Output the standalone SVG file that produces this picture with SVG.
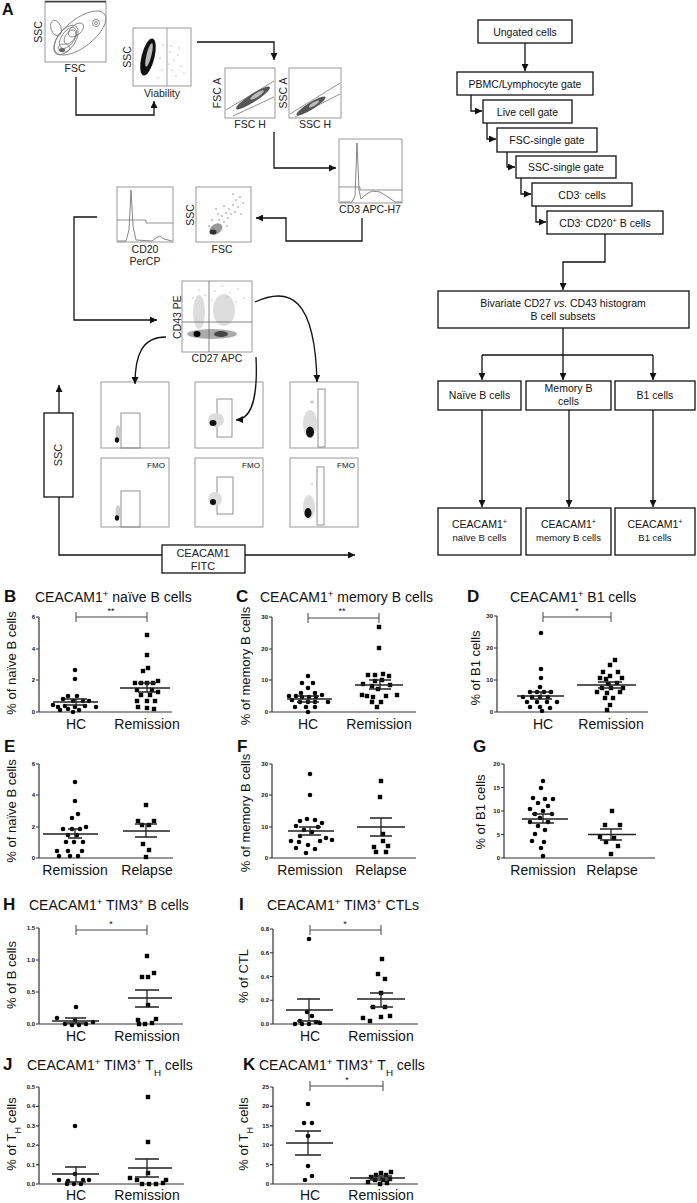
<svg xmlns="http://www.w3.org/2000/svg" width="697" height="1203" viewBox="0 0 697 1203">
<style>
text{font-family:"Liberation Sans",Arial,sans-serif;fill:#111}
.box{fill:#fff;stroke:#111;stroke-width:1.3}
.fc{font-size:10.5px;text-anchor:middle}
.plot{fill:#fff;stroke:#999;stroke-width:1}
.gate{fill:none;stroke:#777;stroke-width:0.8}
.lbl{font-size:10.5px;text-anchor:middle;fill:#222}
.conn{fill:none;stroke:#111;stroke-width:1.3}
.ax{stroke:#333;stroke-width:1.2;fill:none}
.tk{font-size:6px;font-weight:bold;text-anchor:end}
.xl{font-size:14px;text-anchor:middle}
.yl{font-size:13px;text-anchor:middle}
.ttl{font-size:14px}
.pl{font-size:17px;font-weight:bold}
.mean{stroke:#222;stroke-width:1.3;fill:none}
.sig{stroke:#444;stroke-width:1;fill:none}
.st{font-size:9px;text-anchor:middle}
.sup{font-size:70%;baseline-shift:super}
.sub{font-size:70%;baseline-shift:sub}
.fmo{font-size:8px;text-anchor:middle}
.dot{fill:#888}
</style>
<defs>
<marker id="ah" viewBox="0 0 10 10" refX="10" refY="5" markerWidth="7" markerHeight="7" markerUnits="userSpaceOnUse" orient="auto"><path d="M0,0 L10,5 L0,10 z" fill="#111"/></marker>
<circle id="c" r="2.3" fill="#000"/>
<rect id="s" x="-2.2" y="-2.2" width="4.4" height="4.4" fill="#000"/>
</defs>
<rect width="697" height="1203" fill="#fff"/>

<!-- ================= PANEL A : flow plots ================= -->
<text class="pl" x="2" y="15" style="font-size:16px">A</text>

<g id="plot-fsc-ssc">
<rect class="plot" x="45" y="1" width="61" height="61"/>
<line x1="45" y1="1.8" x2="106" y2="1.8" stroke="#444" stroke-width="1.6"/>
<ellipse cx="80" cy="33" rx="31" ry="14" transform="rotate(-38 80 33)" class="gate" stroke="#555"/>
<ellipse cx="66" cy="40" rx="17" ry="9" transform="rotate(-55 66 40)" class="gate"/>
<ellipse cx="68" cy="38" rx="12" ry="6.5" transform="rotate(-55 68 38)" class="gate"/>
<ellipse cx="70" cy="37" rx="8" ry="4.5" transform="rotate(-55 70 37)" class="gate" stroke="#555"/>
<ellipse cx="64" cy="48" rx="6" ry="4" class="gate" stroke="#444"/>
<ellipse cx="76" cy="30" rx="9" ry="5" transform="rotate(-40 76 30)" class="gate"/>
<ellipse cx="56" cy="28" rx="5" ry="8" transform="rotate(-20 56 28)" class="gate" stroke="#999"/>
<ellipse cx="62" cy="50" rx="3" ry="2" fill="#666"/>
<circle cx="96" cy="23" r="3.5" class="gate"/>
<circle cx="96" cy="23" r="1.5" class="gate"/>
<text class="lbl" transform="translate(42,32) rotate(-90)">SSC</text>
<text class="lbl" x="75" y="72">FSC</text>
</g>

<g id="plot-viability">
<rect class="plot" x="133" y="28" width="58" height="58"/>
<line x1="167" y1="28" x2="167" y2="86" stroke="#888" stroke-width="0.8"/>
<ellipse cx="148" cy="57" rx="6.5" ry="19" transform="rotate(14 148 57)" fill="#111"/>
<ellipse cx="149" cy="55" rx="2.5" ry="12" transform="rotate(14 149 55)" fill="#bbb"/>
<g class="dot">
<circle cx="170" cy="52" r="0.6"/><circle cx="174" cy="60" r="0.6"/><circle cx="178" cy="55" r="0.6"/><circle cx="172" cy="70" r="0.6"/><circle cx="181" cy="66" r="0.6"/><circle cx="176" cy="76" r="0.6"/><circle cx="169" cy="64" r="0.6"/><circle cx="184" cy="73" r="0.6"/><circle cx="163" cy="45" r="0.6"/><circle cx="160" cy="58" r="0.6"/><circle cx="162" cy="70" r="0.6"/><circle cx="158" cy="78" r="0.6"/><circle cx="171" cy="46" r="0.6"/><circle cx="179" cy="48" r="0.6"/>
</g>
<text class="lbl" transform="translate(131,57) rotate(-90)">SSC</text>
<text class="lbl" x="162" y="97">Viability</text>
</g>

<g id="plot-fsc-singlets">
<rect class="plot" x="225" y="68" width="50" height="50"/>
<path class="gate" d="M226,110 L274,81 M233,116 L274,97"/>
<ellipse cx="253" cy="98" rx="20" ry="4" transform="rotate(-33 253 98)" fill="#555"/>
<ellipse cx="257" cy="95" rx="8" ry="2" transform="rotate(-33 257 95)" fill="#bbb"/>
<text class="lbl" transform="translate(221,93) rotate(-90)">FSC A</text>
<text class="lbl" x="250" y="128">FSC H</text>
</g>

<g id="plot-ssc-singlets">
<rect class="plot" x="289" y="68" width="52" height="50"/>
<path class="gate" d="M290,114 L340,83 M295,117 L340,94"/>
<ellipse cx="311" cy="106" rx="17" ry="3.5" transform="rotate(-32 311 106)" fill="#555"/>
<ellipse cx="314" cy="104" rx="6" ry="1.8" transform="rotate(-32 314 104)" fill="#bbb"/>
<text class="lbl" transform="translate(287,93) rotate(-90)">SSC A</text>
<text class="lbl" x="315" y="128">SSC H</text>
</g>

<g id="plot-cd3">
<rect class="plot" x="339" y="139" width="63" height="64"/>
<path d="M340,202 L352,202 L355,196 L357,143 L359,190 L361,199 L365,195 L372,191 L380,192 L388,197 L395,202 L402,202" fill="none" stroke="#777" stroke-width="0.9"/>
<path class="gate" d="M339,187 H360 V190 H402"/>
<text class="lbl" x="370" y="213">CD3 APC-H7</text>
</g>

<g id="plot-ssc-fsc">
<rect class="plot" x="196" y="187" width="55" height="55"/>
<g class="dot">
<circle cx="215" cy="225" r="0.8"/><circle cx="219" cy="220" r="0.8"/><circle cx="222" cy="216" r="0.8"/><circle cx="226" cy="213" r="0.8"/><circle cx="229" cy="209" r="0.8"/><circle cx="233" cy="205" r="0.8"/><circle cx="236" cy="200" r="0.8"/><circle cx="240" cy="197" r="0.8"/><circle cx="224" cy="222" r="0.8"/><circle cx="228" cy="218" r="0.8"/><circle cx="231" cy="214" r="0.8"/><circle cx="218" cy="214" r="0.8"/><circle cx="212" cy="220" r="0.8"/><circle cx="235" cy="212" r="0.8"/><circle cx="238" cy="207" r="0.8"/><circle cx="221" cy="228" r="0.8"/><circle cx="227" cy="226" r="0.8"/><circle cx="209" cy="226" r="0.8"/><circle cx="243" cy="203" r="0.8"/><circle cx="233" cy="194" r="0.8"/><circle cx="216" cy="209" r="0.8"/><circle cx="241" cy="214" r="0.8"/><circle cx="224" cy="206" r="0.8"/>
</g>
<ellipse cx="216" cy="229" rx="7" ry="5" transform="rotate(-35 216 229)" fill="#999"/>
<ellipse cx="213" cy="232" rx="3.5" ry="2.5" fill="#333"/>
<text class="lbl" transform="translate(194,215) rotate(-90)">SSC</text>
<text class="lbl" x="222" y="253">FSC</text>
</g>

<g id="plot-cd20">
<rect class="plot" x="117" y="187" width="56" height="55"/>
<path d="M118,241 L126,241 L129,230 L131,190 L133,226 L136,240 L152,241 L156,238 L160,236 L164,239 L172,241" fill="none" stroke="#777" stroke-width="0.9"/>
<path class="gate" d="M117,220 H146 V223 H173"/>
<text class="lbl" x="145" y="253">CD20</text>
<text class="lbl" x="145" y="265">PerCP</text>
</g>

<g id="plot-cd43-cd27">
<rect class="plot" x="182" y="281" width="70" height="71"/>
<ellipse cx="199" cy="312" rx="6" ry="17" fill="#ddd"/>
<ellipse cx="224" cy="310" rx="11" ry="16" fill="#ddd"/>
<ellipse cx="212" cy="334" rx="25" ry="5" fill="#aaa"/>
<ellipse cx="221" cy="334" rx="7" ry="3" fill="#444"/>
<ellipse cx="197" cy="334" rx="3.5" ry="3" fill="#000"/>
<g class="dot">
<circle cx="199" cy="290" r="0.6"/><circle cx="205" cy="295" r="0.6"/><circle cx="215" cy="291" r="0.6"/><circle cx="222" cy="286" r="0.6"/><circle cx="230" cy="293" r="0.6"/><circle cx="238" cy="289" r="0.6"/><circle cx="244" cy="298" r="0.6"/><circle cx="193" cy="298" r="0.6"/><circle cx="236" cy="302" r="0.6"/><circle cx="212" cy="300" r="0.6"/><circle cx="227" cy="297" r="0.6"/>
</g>
<line x1="209" y1="281" x2="209" y2="352" stroke="#666" stroke-width="0.8"/>
<line x1="182" y1="322" x2="252" y2="322" stroke="#666" stroke-width="0.8"/>
<text class="lbl" transform="translate(181,317) rotate(-90)">CD43 PE</text>
<text class="lbl" x="217" y="362">CD27 APC</text>
</g>

<g id="plot-grid">
<rect class="plot" x="101" y="382" width="68" height="66"/>
<rect class="plot" x="195" y="382" width="68" height="66"/>
<rect class="plot" x="290" y="382" width="68" height="66"/>
<rect class="plot" x="101" y="458" width="68" height="69"/>
<rect class="plot" x="195" y="458" width="68" height="69"/>
<rect class="plot" x="290" y="458" width="68" height="69"/>
<rect class="gate" x="121" y="413" width="19" height="35" stroke="#666"/>
<rect class="gate" x="217" y="399" width="15" height="38" stroke="#666"/>
<rect class="gate" x="318" y="389" width="7" height="58" stroke="#666"/>
<rect class="gate" x="121" y="491" width="19" height="36" stroke="#666"/>
<rect class="gate" x="217" y="477" width="16" height="37" stroke="#666"/>
<rect class="gate" x="317" y="467" width="7" height="58" stroke="#666"/>
<ellipse cx="118" cy="433" rx="2.5" ry="8" fill="#ccc"/>
<ellipse cx="117" cy="440" rx="2.2" ry="2.8" fill="#111"/>
<ellipse cx="216" cy="420" rx="8" ry="7" fill="#ddd"/>
<ellipse cx="213" cy="423" rx="3.5" ry="3" fill="#111"/>
<ellipse cx="310" cy="424" rx="7" ry="14" fill="#ddd"/>
<ellipse cx="310" cy="432" rx="4" ry="5.5" fill="#111"/>
<ellipse cx="312" cy="402" rx="2" ry="1.5" fill="#ccc"/>
<ellipse cx="118" cy="512" rx="2.5" ry="7" fill="#ccc"/>
<ellipse cx="117" cy="518" rx="2.2" ry="2.8" fill="#111"/>
<ellipse cx="215" cy="499" rx="7" ry="7" fill="#ddd"/>
<ellipse cx="213" cy="502" rx="3" ry="3" fill="#111"/>
<ellipse cx="309" cy="507" rx="6" ry="12" fill="#ddd"/>
<ellipse cx="308" cy="513" rx="3.5" ry="5" fill="#111"/>
<circle cx="312" cy="484" r="1" fill="#ccc"/>
<text class="fmo" x="156" y="468">FMO</text>
<text class="fmo" x="251" y="468">FMO</text>
<text class="fmo" x="346" y="468">FMO</text>
</g>

<g id="axis-ssc">
<rect class="box" x="44" y="413" width="29" height="84"/>
<text class="lbl" transform="translate(62,455) rotate(-90)" style="font-size:11px">SSC</text>
</g>
<g id="axis-ceacam1">
<rect class="box" x="162" y="545" width="83" height="28"/>
<text class="lbl" x="203" y="557" style="font-size:11px">CEACAM1</text>
<text class="lbl" x="203" y="570" style="font-size:11px">FITC</text>
</g>

<g id="connectors-A">
<path class="conn" d="M76,77 V115 H154 V101" marker-end="url(#ah)"/>
<path class="conn" d="M197,42 H274 V60" marker-end="url(#ah)"/>
<path class="conn" d="M274,132 V168 H336" marker-end="url(#ah)"/>
<path class="conn" d="M362,218 V241 H286 V218 H256" marker-end="url(#ah)"/>
<path class="conn" d="M97,217 H74 V320 H157" marker-end="url(#ah)"/>
<path class="conn" d="M255,302 C290,286 315,298 317,382" marker-end="url(#ah)"/>
<path class="conn" d="M166,337 C142,337 135,355 135,384" marker-end="url(#ah)"/>
<path class="conn" d="M256,357 C258,398 252,419 236,420" marker-end="url(#ah)"/>
<path class="conn" d="M59,413 V385" marker-end="url(#ah)"/>
<path class="conn" d="M59,497 V555 H162"/>
<path class="conn" d="M245,555 H355" marker-end="url(#ah)"/>
</g>

<!-- ================= Flowchart ================= -->
<g id="n-ungated"><rect class="box" x="478" y="20" width="94" height="23"/><text class="fc" x="525" y="35.5">Ungated cells</text></g>
<g id="n-pbmc"><rect class="box" x="457" y="72" width="136" height="23"/><text class="fc" x="525" y="87.5">PBMC/Lymphocyte gate</text></g>
<g id="n-live"><rect class="box" x="483" y="100" width="89" height="23"/><text class="fc" x="527.5" y="115.5">Live cell gate</text></g>
<g id="n-fsc"><rect class="box" x="497" y="128" width="100" height="24"/><text class="fc" x="547" y="144">FSC-single gate</text></g>
<g id="n-ssc"><rect class="box" x="516" y="156" width="100" height="22"/><text class="fc" x="566" y="171">SSC-single gate</text></g>
<g id="n-cd3"><rect class="box" x="532" y="183" width="100" height="23"/><text class="fc" x="582" y="198.5">CD3<tspan class="sup">-</tspan> cells</text></g>
<g id="n-cd20"><rect class="box" x="547" y="211" width="116" height="23"/><text class="fc" x="605" y="226.5">CD3<tspan class="sup">-</tspan> CD20<tspan class="sup">+</tspan> B cells</text></g>
<g id="n-bivariate"><rect class="box" x="438" y="291" width="251" height="37"/><text class="fc" x="563" y="307">Bivariate CD27 <tspan font-style="italic">vs.</tspan> CD43 histogram</text><text class="fc" x="563" y="320">B cell subsets</text></g>
<g id="n-naive"><rect class="box" x="438" y="381" width="83" height="29"/><text class="fc" x="479.5" y="399">Naïve B cells</text></g>
<g id="n-memory"><rect class="box" x="526" y="381" width="85" height="29"/><text class="fc" x="568.5" y="392">Memory B</text><text class="fc" x="568.5" y="405">cells</text></g>
<g id="n-b1"><rect class="box" x="615" y="381" width="80" height="29"/><text class="fc" x="655" y="399">B1 cells</text></g>
<g id="n-cnaive"><rect class="box" x="438" y="508" width="83" height="47"/><text class="fc" x="479.5" y="528">CEACAM1<tspan class="sup">+</tspan></text><text class="fc" x="479.5" y="541" style="font-size:9.5px">naïve B cells</text></g>
<g id="n-cmemory"><rect class="box" x="526" y="508" width="85" height="47"/><text class="fc" x="568.5" y="528">CEACAM1<tspan class="sup">+</tspan></text><text class="fc" x="568.5" y="541" style="font-size:9.5px">memory B cells</text></g>
<g id="n-cb1"><rect class="box" x="615" y="508" width="80" height="47"/><text class="fc" x="655" y="528">CEACAM1<tspan class="sup">+</tspan></text><text class="fc" x="655" y="541" style="font-size:9.5px">B1 cells</text></g>

<g id="connectors-flow">
<path class="conn" d="M525,43 V71" marker-end="url(#ah)"/>
<path class="conn" d="M471,95 V111 H482" marker-end="url(#ah)"/>
<path class="conn" d="M487,123 V139 H496" marker-end="url(#ah)"/>
<path class="conn" d="M507,152 V167 H515" marker-end="url(#ah)"/>
<path class="conn" d="M521,178 V194 H531" marker-end="url(#ah)"/>
<path class="conn" d="M536,206 V222 H546" marker-end="url(#ah)"/>
<path class="conn" d="M605,234 V262 H563 V290" marker-end="url(#ah)"/>
<path class="conn" d="M563,328 V355 M482,355 H653"/>
<path class="conn" d="M482,355 V380" marker-end="url(#ah)"/>
<path class="conn" d="M563,355 V380" marker-end="url(#ah)"/>
<path class="conn" d="M653,355 V380" marker-end="url(#ah)"/>
<path class="conn" d="M482,410 V507" marker-end="url(#ah)"/>
<path class="conn" d="M569,410 V507" marker-end="url(#ah)"/>
<path class="conn" d="M653,410 V507" marker-end="url(#ah)"/>
</g>

<!-- ================= PANEL B ================= -->
<g id="panelB">
<text class="pl" x="4" y="602">B</text>
<text class="ttl" x="35" y="602">CEACAM1<tspan class="sup">+</tspan> naïve B cells</text>
<text class="yl" transform="translate(16,663) rotate(-90)">% of naïve B cells</text>
<path class="ax" d="M39,617 V712 H172 M36,617H39 M36,649H39 M36,680H39 M36,712H39"/>
<text class="tk" x="35" y="619">6</text><text class="tk" x="35" y="651">4</text><text class="tk" x="35" y="682">2</text><text class="tk" x="35" y="714">0</text>
<text class="xl" x="76" y="729">HC</text><text class="xl" x="147" y="729">Remission</text>
<path class="sig" d="M76,617H147M76,612V622M147,612V622"/><text class="st" x="111" y="614">**</text>
<use href="#c" x="75" y="670"/><use href="#c" x="75" y="679"/><use href="#c" x="68" y="696"/><use href="#c" x="77" y="696"/><use href="#c" x="63" y="699"/><use href="#c" x="73" y="701"/><use href="#c" x="83" y="701"/><use href="#c" x="89" y="701"/><use href="#c" x="53" y="705"/><use href="#c" x="58" y="707"/><use href="#c" x="65" y="706"/><use href="#c" x="75" y="707"/><use href="#c" x="85" y="706"/><use href="#c" x="96" y="707"/><use href="#c" x="60" y="710"/><use href="#c" x="68" y="709"/><use href="#c" x="79" y="710"/><use href="#c" x="73" y="712"/>
<use href="#s" x="147" y="635"/><use href="#s" x="147" y="655"/><use href="#s" x="148" y="668"/><use href="#s" x="143" y="671"/><use href="#s" x="135" y="683"/><use href="#s" x="141" y="683"/><use href="#s" x="147" y="683"/><use href="#s" x="153" y="683"/><use href="#s" x="158" y="681"/><use href="#s" x="137" y="690"/><use href="#s" x="152" y="690"/><use href="#s" x="158" y="692"/><use href="#s" x="141" y="695"/><use href="#s" x="150" y="695"/><use href="#s" x="137" y="701"/><use href="#s" x="147" y="701"/><use href="#s" x="155" y="701"/><use href="#s" x="138" y="707"/><use href="#s" x="147" y="708"/><use href="#s" x="154" y="709"/>
<path class="mean" d="M53,702H98M65,699H87M65,705H87M76,699V705"/>
<path class="mean" d="M120,688H170M138,683H156M138,692H156M147,683V692"/>
</g>

<!-- ================= PANEL C ================= -->
<g id="panelC">
<text class="pl" x="236" y="602">C</text>
<text class="ttl" x="260" y="602">CEACAM1<tspan class="sup">+</tspan> memory B cells</text>
<text class="yl" transform="translate(250,666) rotate(-90)">% of memory B cells</text>
<path class="ax" d="M272,617 V712 H416 M269,617H272 M269,649H272 M269,680H272 M269,712H272"/>
<text class="tk" x="268" y="619">30</text><text class="tk" x="268" y="651">20</text><text class="tk" x="268" y="682">10</text><text class="tk" x="268" y="714">0</text>
<text class="xl" x="308" y="729">HC</text><text class="xl" x="379" y="729">Remission</text>
<path class="sig" d="M308,618H379M308,613V623M379,613V623"/><text class="st" x="342" y="614">**</text>
<use href="#c" x="308" y="676"/><use href="#c" x="302" y="683"/><use href="#c" x="313" y="683"/><use href="#c" x="308" y="688"/><use href="#c" x="301" y="693"/><use href="#c" x="315" y="693"/><use href="#c" x="289" y="696"/><use href="#c" x="296" y="696"/><use href="#c" x="302" y="697"/><use href="#c" x="309" y="697"/><use href="#c" x="316" y="697"/><use href="#c" x="322" y="695"/><use href="#c" x="292" y="700"/><use href="#c" x="300" y="702"/><use href="#c" x="308" y="702"/><use href="#c" x="315" y="702"/><use href="#c" x="328" y="702"/><use href="#c" x="295" y="707"/><use href="#c" x="306" y="707"/><use href="#c" x="315" y="707"/><use href="#c" x="308" y="712"/>
<use href="#s" x="379" y="627"/><use href="#s" x="379" y="648"/><use href="#s" x="368" y="675"/><use href="#s" x="375" y="675"/><use href="#s" x="383" y="674"/><use href="#s" x="389" y="676"/><use href="#s" x="375" y="681"/><use href="#s" x="382" y="680"/><use href="#s" x="363" y="684"/><use href="#s" x="372" y="686"/><use href="#s" x="390" y="685"/><use href="#s" x="378" y="689"/><use href="#s" x="362" y="695"/><use href="#s" x="367" y="696"/><use href="#s" x="373" y="697"/><use href="#s" x="386" y="696"/><use href="#s" x="397" y="695"/><use href="#s" x="372" y="702"/><use href="#s" x="381" y="702"/><use href="#s" x="377" y="707"/>
<path class="mean" d="M287,699H332M297,696H319M297,702H319M308,696V702"/>
<path class="mean" d="M355,685H403M369,680H391M369,689H391M380,680V689"/>
</g>

<!-- ================= PANEL D ================= -->
<g id="panelD">
<text class="pl" x="467" y="602">D</text>
<text class="ttl" x="510" y="602">CEACAM1<tspan class="sup">+</tspan> B1 cells</text>
<text class="yl" transform="translate(480,668) rotate(-90)">% of B1 cells</text>
<path class="ax" d="M497,616 V712 H648 M494,616H497 M494,648H497 M494,680H497 M494,712H497"/>
<text class="tk" x="493" y="618">30</text><text class="tk" x="493" y="650">20</text><text class="tk" x="493" y="682">10</text><text class="tk" x="493" y="714">0</text>
<text class="xl" x="543" y="729">HC</text><text class="xl" x="611" y="729">Remission</text>
<path class="sig" d="M543,617H611M543,612V622M611,612V622"/><text class="st" x="577" y="614">*</text>
<use href="#c" x="541" y="633"/><use href="#c" x="541" y="669"/><use href="#c" x="541" y="678"/><use href="#c" x="540" y="687"/><use href="#c" x="530" y="692"/><use href="#c" x="537" y="692"/><use href="#c" x="544" y="692"/><use href="#c" x="551" y="692"/><use href="#c" x="523" y="697"/><use href="#c" x="532" y="697"/><use href="#c" x="540" y="697"/><use href="#c" x="548" y="697"/><use href="#c" x="527" y="702"/><use href="#c" x="537" y="702"/><use href="#c" x="547" y="702"/><use href="#c" x="557" y="702"/><use href="#c" x="530" y="707"/><use href="#c" x="540" y="707"/><use href="#c" x="550" y="708"/><use href="#c" x="542" y="711"/>
<use href="#s" x="615" y="660"/><use href="#s" x="610" y="665"/><use href="#s" x="603" y="672"/><use href="#s" x="618" y="672"/><use href="#s" x="610" y="676"/><use href="#s" x="600" y="678"/><use href="#s" x="606" y="679"/><use href="#s" x="622" y="678"/><use href="#s" x="608" y="684"/><use href="#s" x="617" y="683"/><use href="#s" x="602" y="688"/><use href="#s" x="611" y="688"/><use href="#s" x="623" y="688"/><use href="#s" x="597" y="692"/><use href="#s" x="607" y="693"/><use href="#s" x="620" y="692"/><use href="#s" x="605" y="698"/><use href="#s" x="613" y="698"/><use href="#s" x="610" y="705"/><use href="#s" x="607" y="710"/>
<path class="mean" d="M517,696H564M530,692H552M530,699H552M541,692V699"/>
<path class="mean" d="M577,685H636M598,682H622M598,688H622M610,682V688"/>
</g>

<!-- ================= PANEL E ================= -->
<g id="panelE">
<text class="pl" x="4" y="752">E</text>
<text class="yl" transform="translate(16,811) rotate(-90)">% of naïve B cells</text>
<path class="ax" d="M39,764 V858 H173 M36,764H39 M36,795H39 M36,827H39 M36,858H39"/>
<text class="tk" x="35" y="766">6</text><text class="tk" x="35" y="797">4</text><text class="tk" x="35" y="829">2</text><text class="tk" x="35" y="860">0</text>
<text class="xl" x="75" y="875">Remission</text><text class="xl" x="147" y="875">Relapse</text>
<use href="#c" x="75" y="782"/><use href="#c" x="75" y="801"/><use href="#c" x="72" y="818"/><use href="#c" x="78" y="814"/><use href="#c" x="63" y="829"/><use href="#c" x="72" y="829"/><use href="#c" x="80" y="829"/><use href="#c" x="86" y="827"/><use href="#c" x="68" y="835"/><use href="#c" x="77" y="835"/><use href="#c" x="66" y="842"/><use href="#c" x="74" y="842"/><use href="#c" x="83" y="842"/><use href="#c" x="57" y="851"/><use href="#c" x="68" y="851"/><use href="#c" x="82" y="851"/><use href="#c" x="59" y="856"/><use href="#c" x="70" y="856"/><use href="#c" x="78" y="856"/>
<use href="#s" x="146" y="805"/><use href="#s" x="138" y="821"/><use href="#s" x="154" y="821"/><use href="#s" x="142" y="825"/><use href="#s" x="149" y="825"/><use href="#s" x="143" y="844"/><use href="#s" x="149" y="850"/><use href="#s" x="146" y="857"/>
<path class="mean" d="M43,834H98M68,829H82M68,838H82M75,829V838"/>
<path class="mean" d="M123,831H170M135,824H157M135,837H157M146,824V837"/>
</g>

<!-- ================= PANEL F ================= -->
<g id="panelF">
<text class="pl" x="237" y="752">F</text>
<text class="yl" transform="translate(250,813) rotate(-90)">% of memory B cells</text>
<path class="ax" d="M272,764 V858 H416 M269,764H272 M269,795H272 M269,827H272 M269,858H272"/>
<text class="tk" x="268" y="766">30</text><text class="tk" x="268" y="797">20</text><text class="tk" x="268" y="829">10</text><text class="tk" x="268" y="860">0</text>
<text class="xl" x="310" y="875">Remission</text><text class="xl" x="381" y="875">Relapse</text>
<use href="#c" x="310" y="774"/><use href="#c" x="310" y="795"/><use href="#c" x="300" y="821"/><use href="#c" x="307" y="819"/><use href="#c" x="315" y="820"/><use href="#c" x="322" y="823"/><use href="#c" x="296" y="826"/><use href="#c" x="318" y="827"/><use href="#c" x="304" y="830"/><use href="#c" x="312" y="832"/><use href="#c" x="300" y="836"/><use href="#c" x="326" y="838"/><use href="#c" x="291" y="841"/><use href="#c" x="299" y="842"/><use href="#c" x="320" y="841"/><use href="#c" x="332" y="840"/><use href="#c" x="308" y="845"/><use href="#c" x="296" y="848"/><use href="#c" x="315" y="849"/><use href="#c" x="306" y="853"/>
<use href="#s" x="381" y="781"/><use href="#s" x="380" y="797"/><use href="#s" x="383" y="834"/><use href="#s" x="383" y="841"/><use href="#s" x="374" y="847"/><use href="#s" x="388" y="846"/><use href="#s" x="376" y="852"/><use href="#s" x="386" y="852"/>
<path class="mean" d="M288,831H334M299,827H321M299,835H321M310,827V835"/>
<path class="mean" d="M357,827H405M370,818H392M370,836H392M381,818V836"/>
</g>

<!-- ================= PANEL G ================= -->
<g id="panelG">
<text class="pl" x="473" y="752">G</text>
<text class="yl" transform="translate(485,812) rotate(-90)">% of B1 cells</text>
<path class="ax" d="M504,764 V858 H655 M501,764H504 M501,787.5H504 M501,811H504 M501,834.5H504 M501,858H504"/>
<text class="tk" x="500" y="766">20</text><text class="tk" x="500" y="789.5">15</text><text class="tk" x="500" y="813">10</text><text class="tk" x="500" y="836.5">5</text><text class="tk" x="500" y="860">0</text>
<text class="xl" x="543" y="875">Remission</text><text class="xl" x="612" y="875">Relapse</text>
<use href="#c" x="543" y="781"/><use href="#c" x="541" y="788"/><use href="#c" x="533" y="798"/><use href="#c" x="545" y="799"/><use href="#c" x="553" y="799"/><use href="#c" x="538" y="803"/><use href="#c" x="548" y="806"/><use href="#c" x="530" y="809"/><use href="#c" x="543" y="811"/><use href="#c" x="535" y="814"/><use href="#c" x="552" y="814"/><use href="#c" x="540" y="818"/><use href="#c" x="530" y="822"/><use href="#c" x="548" y="822"/><use href="#c" x="538" y="826"/><use href="#c" x="545" y="830"/><use href="#c" x="535" y="834"/><use href="#c" x="532" y="841"/><use href="#c" x="544" y="842"/><use href="#c" x="541" y="848"/><use href="#c" x="543" y="856"/>
<use href="#s" x="612" y="811"/><use href="#s" x="605" y="825"/><use href="#s" x="620" y="825"/><use href="#s" x="600" y="837"/><use href="#s" x="614" y="838"/><use href="#s" x="606" y="842"/><use href="#s" x="618" y="846"/><use href="#s" x="611" y="854"/>
<path class="mean" d="M522,819H568M532,814H554M532,823H554M543,814V823"/>
<path class="mean" d="M588,834.5H636M600,829H622M600,840H622M611,829V840"/>
</g>

<!-- ================= PANEL H ================= -->
<g id="panelH">
<text class="pl" x="3" y="910">H</text>
<text class="ttl" x="29" y="910">CEACAM1<tspan class="sup">+</tspan> TIM3<tspan class="sup">+</tspan> B cells</text>
<text class="yl" transform="translate(16,975) rotate(-90)">% of B cells</text>
<path class="ax" d="M39,928 V1024 H183 M36,928H39 M36,960H39 M36,992H39 M36,1024H39"/>
<text class="tk" x="35" y="930">1.5</text><text class="tk" x="35" y="962">1.0</text><text class="tk" x="35" y="994">0.5</text><text class="tk" x="35" y="1026">0.0</text>
<text class="xl" x="76" y="1041">HC</text><text class="xl" x="147" y="1041">Remission</text>
<path class="sig" d="M76,930H147M76,925V935M147,925V935"/><text class="st" x="111" y="927">*</text>
<use href="#c" x="76" y="1007"/><use href="#c" x="57" y="1018"/><use href="#c" x="75" y="1020"/><use href="#c" x="93" y="1022"/><use href="#c" x="65" y="1024"/><use href="#c" x="72" y="1025"/><use href="#c" x="79" y="1025"/><use href="#c" x="86" y="1024"/>
<use href="#s" x="147" y="956"/><use href="#s" x="142" y="977"/><use href="#s" x="148" y="977"/><use href="#s" x="154" y="973"/><use href="#s" x="148" y="1005"/><use href="#s" x="138" y="1020"/><use href="#s" x="156" y="1019"/><use href="#s" x="139" y="1024"/><use href="#s" x="145" y="1024"/><use href="#s" x="152" y="1023"/>
<path class="mean" d="M52,1021H99M65,1018H86M65,1023H86M76,1018V1023"/>
<path class="mean" d="M128,998H172M135,990H159M135,1007H159M147,990V1007"/>
</g>

<!-- ================= PANEL I ================= -->
<g id="panelI">
<text class="pl" x="239" y="910">I</text>
<text class="ttl" x="267" y="910">CEACAM1<tspan class="sup">+</tspan> TIM3<tspan class="sup">+</tspan> CTLs</text>
<text class="yl" transform="translate(248,976) rotate(-90)">% of CTL</text>
<path class="ax" d="M273,929 V1024 H418 M270,929H273 M270,952.75H273 M270,976.5H273 M270,1000.25H273 M270,1024H273"/>
<text class="tk" x="269" y="931">0.8</text><text class="tk" x="269" y="954.75">0.6</text><text class="tk" x="269" y="978.5">0.4</text><text class="tk" x="269" y="1002.25">0.2</text><text class="tk" x="269" y="1026">0.0</text>
<text class="xl" x="310" y="1041">HC</text><text class="xl" x="381" y="1041">Remission</text>
<path class="sig" d="M310,930H381M310,925V935M381,925V935"/><text class="st" x="345" y="927">*</text>
<use href="#c" x="309" y="939"/><use href="#c" x="307" y="1012"/><use href="#c" x="312" y="1016"/><use href="#c" x="300" y="1021"/><use href="#c" x="316" y="1022"/><use href="#c" x="295" y="1024"/><use href="#c" x="302" y="1024"/><use href="#c" x="309" y="1024"/><use href="#c" x="320" y="1023"/>
<use href="#s" x="382" y="959"/><use href="#s" x="378" y="974"/><use href="#s" x="385" y="979"/><use href="#s" x="381" y="993"/><use href="#s" x="373" y="1007"/><use href="#s" x="385" y="1007"/><use href="#s" x="363" y="1018"/><use href="#s" x="381" y="1017"/><use href="#s" x="390" y="1016"/><use href="#s" x="370" y="1021"/>
<path class="mean" d="M286,1010H333M297,999H320M297,1021H320M309,999V1021"/>
<path class="mean" d="M357,999H405M370,993H393M370,1007H393M381,993V1007"/>
</g>

<!-- ================= PANEL J ================= -->
<g id="panelJ">
<text class="pl" x="3" y="1070">J</text>
<text class="ttl" x="27" y="1070">CEACAM1<tspan class="sup">+</tspan> TIM3<tspan class="sup">+</tspan> T<tspan class="sub">H</tspan> cells</text>
<text class="yl" transform="translate(16,1134) rotate(-90)">% of T<tspan class="sub">H</tspan> cells</text>
<path class="ax" d="M39,1087 V1184 H184 M36,1087H39 M36,1106.4H39 M36,1125.8H39 M36,1145.2H39 M36,1164.6H39 M36,1184H39"/>
<text class="tk" x="35" y="1089">0.5</text><text class="tk" x="35" y="1108.4">0.4</text><text class="tk" x="35" y="1127.8">0.3</text><text class="tk" x="35" y="1147.2">0.2</text><text class="tk" x="35" y="1166.6">0.1</text><text class="tk" x="35" y="1186">0.0</text>
<text class="xl" x="76" y="1200">HC</text><text class="xl" x="147" y="1200">Remission</text>
<use href="#c" x="75" y="1126"/><use href="#c" x="75" y="1174"/><use href="#c" x="59" y="1180"/><use href="#c" x="68" y="1181"/><use href="#c" x="83" y="1180"/><use href="#c" x="89" y="1180"/><use href="#c" x="67" y="1184"/><use href="#c" x="74" y="1184"/><use href="#c" x="81" y="1184"/>
<use href="#s" x="148" y="1097"/><use href="#s" x="148" y="1142"/><use href="#s" x="148" y="1173"/><use href="#s" x="130" y="1178"/><use href="#s" x="137" y="1180"/><use href="#s" x="142" y="1184"/><use href="#s" x="149" y="1184"/><use href="#s" x="156" y="1184"/><use href="#s" x="163" y="1183"/><use href="#s" x="166" y="1180"/>
<path class="mean" d="M52,1174H99M65,1167H86M65,1182H86M76,1167V1182"/>
<path class="mean" d="M128,1168H172M135,1159H159M135,1177H159M147,1159V1177"/>
</g>

<!-- ================= PANEL K ================= -->
<g id="panelK">
<text class="pl" x="243" y="1070">K</text>
<text class="ttl" x="259" y="1070">CEACAM1<tspan class="sup">+</tspan> TIM3<tspan class="sup">+</tspan> T<tspan class="sub">H</tspan> cells</text>
<text class="yl" transform="translate(248,1134) rotate(-90)">% of T<tspan class="sub">H</tspan> cells</text>
<path class="ax" d="M273,1087 V1184 H418 M270,1087H273 M270,1106.4H273 M270,1125.8H273 M270,1145.2H273 M270,1164.6H273 M270,1184H273"/>
<text class="tk" x="269" y="1089">25</text><text class="tk" x="269" y="1108.4">20</text><text class="tk" x="269" y="1127.8">15</text><text class="tk" x="269" y="1147.2">10</text><text class="tk" x="269" y="1166.6">5</text><text class="tk" x="269" y="1186">0</text>
<text class="xl" x="310" y="1200">HC</text><text class="xl" x="381" y="1200">Remission</text>
<path class="sig" d="M310,1086H383M310,1081V1091M383,1081V1091"/><text class="st" x="347" y="1083">*</text>
<use href="#c" x="308" y="1104"/><use href="#c" x="304" y="1123"/><use href="#c" x="312" y="1123"/><use href="#c" x="308" y="1136"/><use href="#c" x="308" y="1166"/><use href="#c" x="312" y="1176"/><use href="#c" x="305" y="1180"/>
<use href="#s" x="371" y="1177"/><use href="#s" x="376" y="1175"/><use href="#s" x="381" y="1173"/><use href="#s" x="386" y="1175"/><use href="#s" x="391" y="1172"/><use href="#s" x="368" y="1182"/><use href="#s" x="375" y="1180"/><use href="#s" x="383" y="1180"/><use href="#s" x="390" y="1179"/><use href="#s" x="380" y="1184"/><use href="#s" x="387" y="1183"/>
<path class="mean" d="M286,1143H333M295,1131H321M295,1155H321M308,1131V1155"/>
<path class="mean" d="M350,1178H405M370,1176H392M370,1180H392M381,1176V1180"/>
</g>
</svg>
